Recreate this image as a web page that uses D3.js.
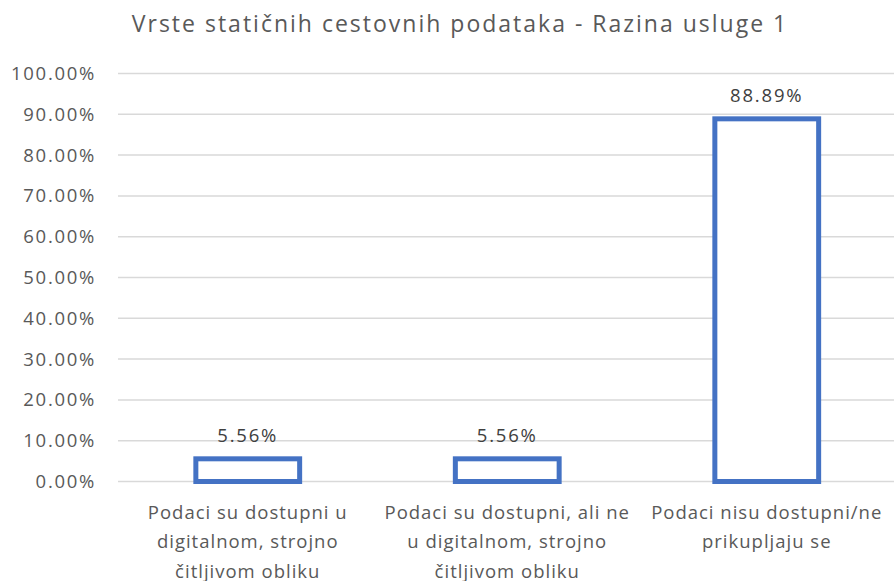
<!DOCTYPE html>
<html>
<head>
<meta charset="utf-8">
<script src="https://cdn.jsdelivr.net/npm/d3@7"></script>
<style>
  body { margin: 0; background: #fff; }
  text { font-family: "Open Sans", sans-serif; }
</style>
</head>
<body>
<div id="container"></div>
<script>
const title = 'Vrste statičnih cestovnih podataka - Razina usluge 1';
const categories = [
  ['Podaci su dostupni u', 'digitalnom, strojno', 'čitljivom obliku'],
  ['Podaci su dostupni, ali ne', 'u digitalnom, strojno', 'čitljivom obliku'],
  ['Podaci nisu dostupni/ne', 'prikupljaju se']
];
const values = [0.0556, 0.0556, 0.8889];
const yTicks = [0, 0.1, 0.2, 0.3, 0.4, 0.5, 0.6, 0.7, 0.8, 0.9, 1.0];

const width = 894, height = 581;
const margin = { top: 73.5, right: -2.5, bottom: 99.5, left: 118 };
const innerW = width - margin.left - margin.right;
const innerH = height - margin.top - margin.bottom;

const svg = d3.select('#container').append('svg')
  .attr('width', width).attr('height', height);

svg.append('text')
  .attr('x', 460).attr('y', 32)
  .attr('text-anchor', 'middle')
  .attr('fill', '#595959')
  .attr('font-size', 23)
  .attr('letter-spacing', 2)
  .text(title);

const g = svg.append('g').attr('transform', `translate(${margin.left},${margin.top})`);

const x = d3.scaleBand().domain(d3.range(categories.length)).range([0, innerW]).paddingInner(0.6).paddingOuter(0.3);
const y = d3.scaleLinear().domain([0, 1]).range([innerH, 0]);

// gridlines
g.append('g').selectAll('line').data(yTicks).join('line')
  .attr('x1', 0).attr('x2', innerW)
  .attr('y1', d => y(d)).attr('y2', d => y(d))
  .attr('stroke', '#d9d9d9').attr('stroke-width', 1.5);

// y tick labels
g.append('g').selectAll('text').data(yTicks).join('text')
  .attr('x', -22).attr('y', d => y(d) + 6.5)
  .attr('text-anchor', 'end')
  .attr('fill', '#595959').attr('font-size', 18.5).attr('letter-spacing', 1.7)
  .text(d => d3.format('.2%')(d));

// bars (outline only)
g.append('g').selectAll('rect').data(values).join('rect')
  .attr('x', (d, i) => x(i)).attr('width', x.bandwidth())
  .attr('y', d => y(d)).attr('height', d => innerH - y(d))
  .attr('fill', '#fff').attr('stroke', '#4472c4').attr('stroke-width', 5);

// data labels
g.append('g').selectAll('text').data(values).join('text')
  .attr('x', (d, i) => x(i) + x.bandwidth() / 2)
  .attr('y', d => y(d) - 17)
  .attr('text-anchor', 'middle')
  .attr('fill', '#404040').attr('font-size', 18.5).attr('letter-spacing', 1.8)
  .text(d => d3.format('.2%')(d));

// category labels
const cat = g.append('g').selectAll('text').data(categories).join('text')
  .attr('x', (d, i) => x(i) + x.bandwidth() / 2)
  .attr('y', innerH + 37)
  .attr('text-anchor', 'middle')
  .attr('fill', '#595959').attr('font-size', 18.5).attr('letter-spacing', 1);
cat.selectAll('tspan').data(d => d).join('tspan')
  .attr('x', function () { return d3.select(this.parentNode).attr('x'); })
  .attr('dy', (d, i) => i === 0 ? 0 : 29.5)
  .text(d => d);
</script>
</body>
</html>
